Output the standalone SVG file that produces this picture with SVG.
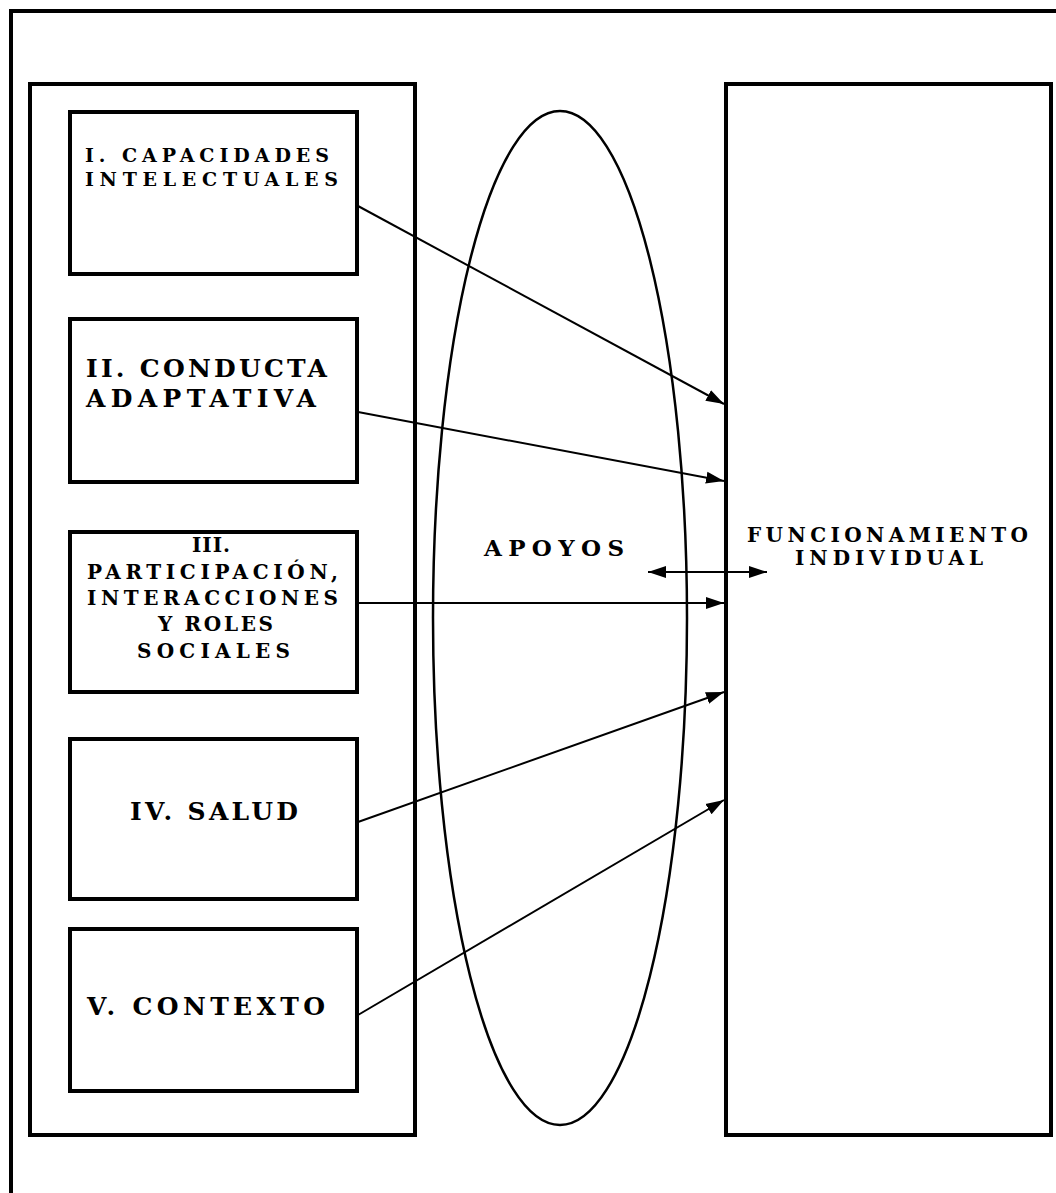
<svg xmlns="http://www.w3.org/2000/svg" width="1056" height="1193" viewBox="0 0 1056 1193">
<style>
.box{fill:#fff;stroke:#000;stroke-width:4}
.big{fill:none;stroke:#000;stroke-width:4}
.t{font-family:"DejaVu Serif","Liberation Serif","Times New Roman",serif;font-weight:bold;fill:#000}
.s20{font-size:19px}
.s26{font-size:25px}
.s22{font-size:20px}
.conn{stroke:#000;stroke-width:2;fill:none}
</style>
<defs>
<marker id="ah" markerUnits="userSpaceOnUse" markerWidth="20" markerHeight="14" refX="18" refY="7" orient="auto-start-reverse">
<path d="M0,1 L18,7 L0,13 z" fill="#000"/>
</marker>
</defs>
<rect width="1056" height="1193" fill="#fff"/>
<g id="frame"><path d="M11,1193 V11 H1056" class="big"/></g>
<g id="left-panel"><rect x="30" y="84" width="385" height="1051" class="big"/></g>
<g id="funcionamiento">
<rect x="726" y="84" width="325" height="1051" class="big"/>
<text class="t s22" x="747" y="542" textLength="281" lengthAdjust="spacing">FUNCIONAMIENTO</text>
<text class="t s22" x="795" y="565" textLength="188" lengthAdjust="spacing">INDIVIDUAL</text>
</g>
<g id="apoyos">
<ellipse cx="560" cy="618" rx="127" ry="507" fill="none" stroke="#000" stroke-width="2.5"/>
<text class="t" font-size="23" x="484" y="556" textLength="140" lengthAdjust="spacing">APOYOS</text>
</g>
<g id="n1">
<rect x="70" y="112" width="287" height="162" class="box"/>
<text class="t s20" x="85" y="162" textLength="244" lengthAdjust="spacing">I. CAPACIDADES</text>
<text class="t s20" x="85" y="186" textLength="253" lengthAdjust="spacing">INTELECTUALES</text>
</g>
<g id="n2">
<rect x="70" y="319" width="287" height="163" class="box"/>
<text class="t s26" x="86" y="377" textLength="241" lengthAdjust="spacing">II. CONDUCTA</text>
<text class="t s26" x="86" y="407" textLength="230" lengthAdjust="spacing">ADAPTATIVA</text>
</g>
<g id="n3">
<rect x="70" y="532" width="287" height="160" class="box"/>
<text class="t s22" x="192" y="552" textLength="38" lengthAdjust="spacing">III.</text>
<text class="t s22" x="87" y="579" textLength="251" lengthAdjust="spacing">PARTICIPACIÓN,</text>
<text class="t s22" x="87" y="605" textLength="251" lengthAdjust="spacing">INTERACCIONES</text>
<text class="t s22" x="158" y="631" textLength="115" lengthAdjust="spacing">Y ROLES</text>
<text class="t s22" x="137" y="658" textLength="153" lengthAdjust="spacing">SOCIALES</text>
</g>
<g id="n4">
<rect x="70" y="739" width="287" height="160" class="box"/>
<text class="t s26" x="130" y="820" textLength="168" lengthAdjust="spacing">IV. SALUD</text>
</g>
<g id="n5">
<rect x="70" y="929" width="287" height="162" class="box"/>
<text class="t s26" x="87" y="1015" textLength="238" lengthAdjust="spacing">V. CONTEXTO</text>
</g>
<g id="connectors">
<line x1="358" y1="206" x2="724" y2="404" class="conn" marker-end="url(#ah)"/>
<line x1="358" y1="412" x2="724" y2="481" class="conn" marker-end="url(#ah)"/>
<line x1="358" y1="603" x2="724" y2="603" class="conn" marker-end="url(#ah)"/>
<line x1="358" y1="822" x2="724" y2="692" class="conn" marker-end="url(#ah)"/>
<line x1="358" y1="1015" x2="724" y2="800" class="conn" marker-end="url(#ah)"/>
<line x1="648" y1="572" x2="767" y2="572" class="conn" marker-start="url(#ah)" marker-end="url(#ah)"/>
</g>
</svg>
